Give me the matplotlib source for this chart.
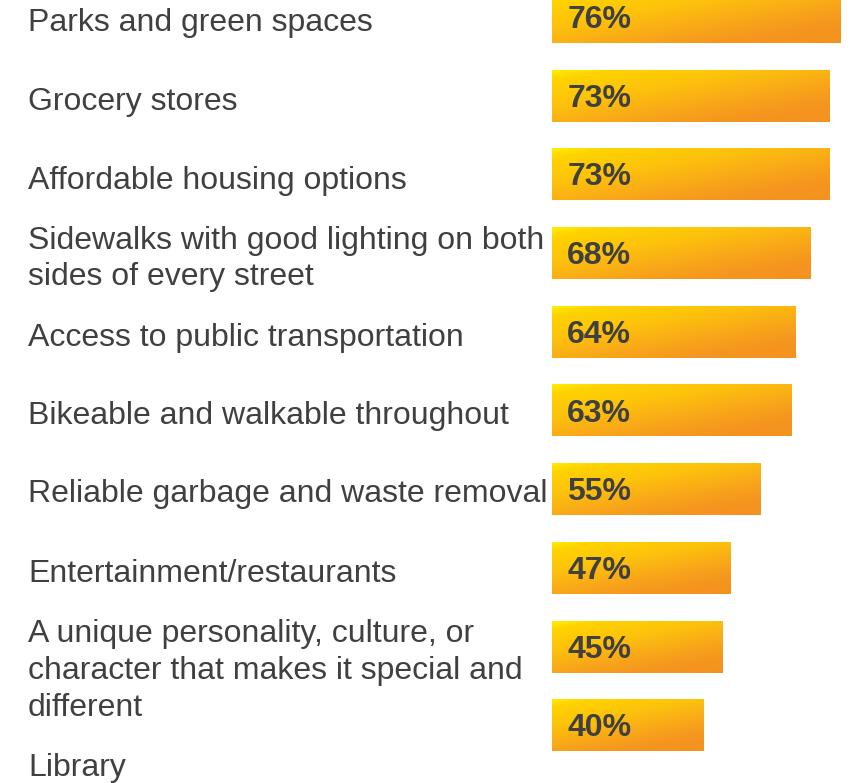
import numpy as np
import matplotlib
matplotlib.use("Agg")
import matplotlib.pyplot as plt
from matplotlib.colors import LinearSegmentedColormap

categories = [
    "Parks and green spaces",
    "Grocery stores",
    "Affordable housing options",
    "Sidewalks with good lighting on both\nsides of every street",
    "Access to public transportation",
    "Bikeable and walkable throughout",
    "Reliable garbage and waste removal",
    "Entertainment/restaurants",
    "A unique personality, culture, or\ncharacter that makes it special and\ndifferent",
    "Library",
]
values = [76, 73, 73, 68, 64, 63, 55, 47, 45, 40]

# layout (pixel centers of each label block in figure, from top)
label_centers_px = [23, 102, 181, 259, 338, 416, 494, 574, 671, 768]
line_pitch_px = 37

W, H = 852, 783
fig = plt.figure(figsize=(W / 100, H / 100), dpi=100)
plt.rcParams['font.family'] = ['Liberation Sans', 'DejaVu Sans']

ax = fig.add_axes([552 / W, 0, 300 / W, 1])
ax.set_axis_off()

px_per_unit_x = 3.8
slot = 78.7
first_center = 17
ax.set_xlim(0, 300 / px_per_unit_x)
ax.set_ylim((H - first_center) / slot, -first_center / slot)

ypos = np.arange(len(values))
bars = ax.barh(ypos, values, height=52 / slot, color='none', edgecolor='none')

cmap = LinearSegmentedColormap.from_list(
    "grad", [(0, '#FFEE00'), (0.1, '#FFD300'), (0.35, '#FDC20C'),
             (0.6, '#F9A819'), (0.8, '#F5961F'), (1, '#F4921F')])

gx, gy = np.meshgrid(np.linspace(0, 1, 300), np.linspace(0, 1, 60))
for b in bars:
    x0, y0 = b.get_x(), b.get_y()
    w, h = b.get_width(), b.get_height()
    wpx = w * px_per_unit_x
    k = 0.18
    t = (gy * 52 + gx * wpx * k) / (52 + wpx * k)
    im = ax.imshow(t, cmap=cmap, vmin=0, vmax=1, extent=(x0, x0 + w, y0 + h, y0),
                   aspect='auto', interpolation='bilinear', zorder=2)
    im.set_clip_path(b)

ax.set_xlim(0, 300 / px_per_unit_x)
ax.set_ylim((H - first_center) / slot, -first_center / slot)

for i, v in enumerate(values):
    ax.annotate(f"{v}%", xy=(0, i), xytext=(11, -2.2), textcoords='offset points',
                ha='left', va='center', fontsize=23, fontweight='bold',
                color='#404040', zorder=3)

for lab, cy in zip(categories, label_centers_px):
    lines = lab.split("\n")
    n = len(lines)
    for j, ln in enumerate(lines):
        ypx = cy + (j - (n - 1) / 2) * line_pitch_px
        fig.text(28 / W, 1 - ypx / H, ln, ha='left', va='center',
                 fontsize=23, color='#404040')

fig.savefig("out.png", dpi=100)
